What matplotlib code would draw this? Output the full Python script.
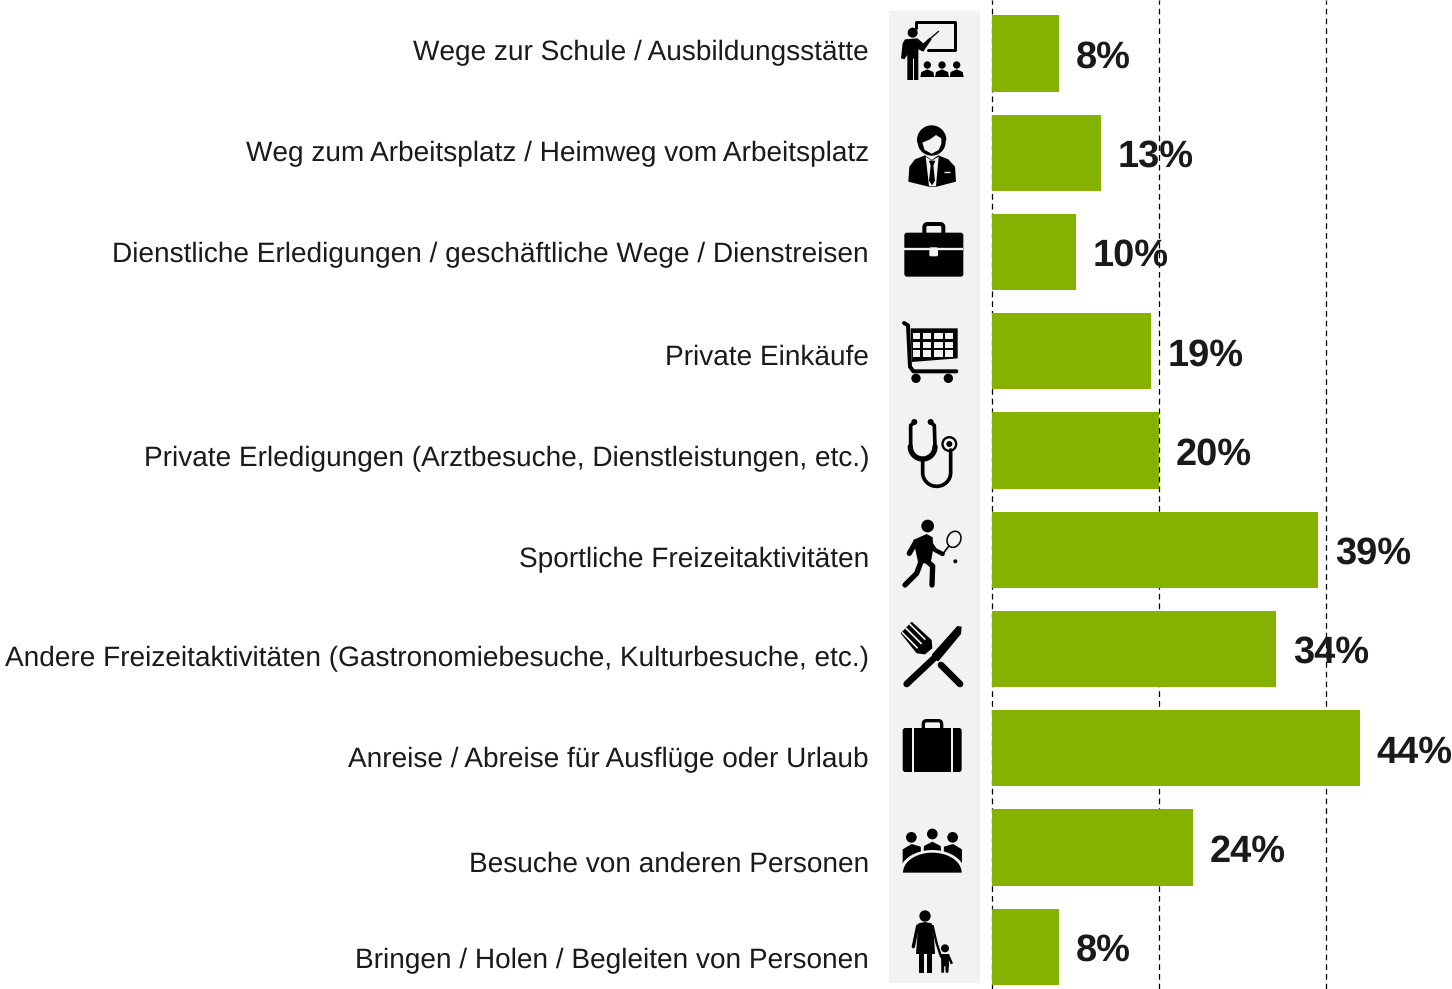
import numpy as np
import matplotlib
matplotlib.use("Agg")
import matplotlib.pyplot as plt
from matplotlib.patches import Polygon, Circle, Ellipse, Rectangle, FancyBboxPatch

plt.rcParams['font.family'] = ['Liberation Sans', 'DejaVu Sans']
plt.rcParams['text.hinting'] = 'none'
plt.rcParams['text.hinting_factor'] = 1

categories = [
    "Wege zur Schule / Ausbildungsstätte",
    "Weg zum Arbeitsplatz / Heimweg vom Arbeitsplatz",
    "Dienstliche Erledigungen / geschäftliche Wege / Dienstreisen",
    "Private Einkäufe",
    "Private Erledigungen (Arztbesuche, Dienstleistungen, etc.)",
    "Sportliche Freizeitaktivitäten",
    "Andere Freizeitaktivitäten (Gastronomiebesuche, Kulturbesuche, etc.)",
    "Anreise / Abreise für Ausflüge oder Urlaub",
    "Besuche von anderen Personen",
    "Bringen / Holen / Begleiten von Personen",
]
values = [8, 13, 10, 19, 20, 39, 34, 44, 24, 8]
grid_ticks = [0, 20, 40]

# label rows do not sit exactly on the bars in the original
label_y_px = [53, 154, 255, 357, 459, 560, 659, 760, 864, 961]

GREEN = '#85B200'
PANEL = '#F2F2F2'
W, H = 1452, 989
PX_PER_PCT = 8.36
ROW0, ROW_STEP = 53.5, 99.25

fig = plt.figure(figsize=(W / 100, H / 100), dpi=100)

# bars
ax = fig.add_axes([992 / W, 0, (W - 992) / W, 1])
ax.set_xlim(0, (W - 992) / PX_PER_PCT)
ax.set_ylim((H - ROW0) / ROW_STEP, -ROW0 / ROW_STEP)
ax.axis('off')
ax.patch.set_alpha(0)
for t in grid_ticks:
    ax.axvline(t, color='black', lw=0.9, linestyle=(0, (4.6, 3.2)), zorder=1, clip_on=False)
bars = ax.barh(range(len(values)), values, height=0.77, color=GREEN, zorder=2)
for b, v in zip(bars, values):
    ax.annotate(f"{v}%", (v, b.get_y() + b.get_height() / 2), xytext=(12, -3),
                textcoords='offset points', ha='left', va='center', fontsize=27.2,
                fontweight='bold', color='#1a1a1a', zorder=5, annotation_clip=False)

# overlay in pixels for panel, labels, icons
ov = fig.add_axes([0, 0, 1, 1], zorder=-1)
ov.set_xlim(0, W)
ov.set_ylim(H, 0)
ov.axis('off')
ov.add_patch(Rectangle((889, 11), 91, 972, color=PANEL, lw=0))
for name, y in zip(categories, label_y_px):
    ov.text(869, y, name, ha='right', va='center', fontsize=20.1, color='#1a1a1a')

ic = fig.add_axes([0, 0, 1, 1], zorder=3)
ic.set_xlim(0, W)
ic.set_ylim(H, 0)
ic.axis('off')
ic.patch.set_alpha(0)

# icon shapes are given in zoom-crop units (3x), with a y origin per crop
oy = 0


def pt(p):
    return (880 + p[0] / 3, oy + p[1] / 3)


def poly(pts, c='black'):
    ic.add_patch(Polygon([pt(p) for p in pts], closed=True, fc=c, ec='none'))


def circ(x, y, r, c='black'):
    ic.add_patch(Circle(pt((x, y)), r / 3, fc=c, ec='none'))


def line(pts, lw, c='black', cap='round'):
    xy = np.array([pt(p) for p in pts])
    ic.plot(xy[:, 0], xy[:, 1], color=c, lw=lw * 0.24, solid_capstyle=cap, solid_joinstyle='round')


def box(x0, y0, x1, y1, rad=8, fc='black', ec='none', lw=0):
    a, b = pt((x0, y0)), pt((x1, y1))
    ic.add_patch(FancyBboxPatch((a[0] + rad / 3, a[1] + rad / 3), b[0] - a[0] - 2 * rad / 3,
                                b[1] - a[1] - 2 * rad / 3, boxstyle=f"round,pad={rad / 3}",
                                fc=fc, ec=ec, lw=lw * 0.24))


def arc(cx, cy, rx, ry, a0, a1, n=40):
    t = np.radians(np.linspace(a0, a1, n))
    return [(cx + rx * np.cos(a), cy + ry * np.sin(a)) for a in t]


# teacher
oy = 0
line([(107, 85), (107, 65), (226, 65), (226, 151), (145, 151)], 9)
circ(98, 98, 15)
poly([(75, 118), (112, 115), (130, 130), (150, 112), (155, 118), (130, 155), (115, 148), (115, 240),
      (82, 240), (82, 165), (73, 178), (63, 175), (68, 130)])
line([(140, 125), (176, 94)], 4)
line([(98, 175), (98, 240)], 3, PANEL, 'butt')
for x in (142, 186, 230):
    circ(x, 195, 11)
    poly([(x - 21, 231), (x - 18, 216), (x, 208), (x + 18, 216), (x + 21, 231)])

# businessman
ic.add_patch(Ellipse(pt((155, 426)), 84 / 3, 82 / 3, fc='black', ec='none'))
poly(arc(155, 420, 44, 44, 180, 360) + [(190, 430), (120, 430), (112, 428)])
poly([(127, 428), (150, 418), (168, 405), (184, 415), (184, 432), (176, 450), (155, 461), (134, 450)], PANEL)
poly([(85, 545), (88, 500), (105, 478), (135, 466), (155, 480), (175, 466), (205, 478), (225, 500),
      (228, 545), (170, 560), (145, 560)])
poly([(137, 470), (147, 558), (168, 558), (176, 470), (155, 482)], PANEL)
poly([(147, 482), (166, 482), (160, 497), (165, 542), (156, 556), (147, 542), (152, 497)])
line([(192, 516), (210, 516)], 4, PANEL, 'butt')

# briefcase
box(133, 672, 190, 712, rad=10, fc='none', ec='black', lw=12)
box(73, 698, 250, 830)
line([(73, 748), (250, 748)], 7, PANEL, 'butt')
box(148, 742, 174, 769, rad=5, fc=PANEL)

# cart
oy = 300
poly([(92, 85), (233, 85), (233, 175), (95, 186)])
for y0, y1 in ((100, 118), (126, 145), (151, 170)):
    for x0, x1 in ((98, 120), (129, 154), (163, 188), (196, 220)):
        poly([(x0, y0), (x1, y0), (x1, y1), (x0, y1)], PANEL)
line([(72, 69), (84, 76), (90, 200), (100, 214), (229, 214)], 12)
circ(108, 235, 14)
circ(205, 235, 14)

# stethoscope
line([(105, 366), (92, 376), (92, 440)], 11)
line([(165, 440), (163, 376), (150, 366)], 11)
line(arc(128, 440, 37, 37, 180, 0), 16)
line([(128, 480), (128, 518)] + arc(170, 518, 42, 41, 180, 0) + [(212, 450)], 11)
circ(208, 432, 24)
circ(208, 432, 17, PANEL)
circ(208, 432, 9)
circ(103, 366, 9)
circ(152, 366, 9)

# tennis player
circ(143, 678, 19)
poly([(100, 720), (140, 702), (158, 712), (160, 745), (152, 790), (115, 790)])
line([(108, 725), (88, 760)], 16)
line([(148, 725), (165, 750), (188, 762)], 13)
line([(125, 780), (110, 820), (75, 855)], 16)
line([(130, 775), (158, 798), (156, 855)], 16)
line([(205, 740), (190, 760)], 5)
ic.add_patch(Ellipse(pt((222, 718)), 40 / 3, 50 / 3, angle=25, fc='none', ec='black', lw=1.1))
circ(226, 784, 6)

# fork and knife
oy = 600
poly([(62, 100), (95, 65), (155, 120), (157, 145), (135, 163), (110, 160)])
for a, b in (((66, 97), (113, 145)), ((77, 84), (125, 132)), ((88, 71), (136, 119))):
    line([a, b], 5, PANEL, 'butt')
line([(183, 195), (240, 252)], 20)
line([(165, 172), (80, 252)], 20)
poly([(156, 163), (232, 78), (245, 80), (243, 102), (175, 184), (162, 178)])

# suitcase
box(130, 362, 185, 395, rad=10, fc='none', ec='black', lw=10)
box(68, 384, 245, 516)
line([(98, 384), (98, 516)], 6, PANEL, 'butt')
line([(215, 384), (215, 516)], 6, PANEL, 'butt')

# group at table
for x, y in ((94, 712), (157, 702), (218, 712)):
    circ(x, y, 16)
poly([(68, 810), (68, 748), (95, 732), (122, 740), (124, 775)])
poly([(246, 810), (246, 748), (219, 732), (192, 740), (190, 775)])
poly([(130, 765), (132, 738), (157, 725), (182, 738), (184, 765)])
poly(arc(157, 818, 98, 68, 180, 360), PANEL)
poly(arc(157, 818, 88, 60, 180, 360))

# mother and child
circ(135, 948, 17)
poly([(115, 970), (135, 966), (155, 970), (162, 1010), (165, 1062), (108, 1062), (112, 1010)])
line([(113, 978), (100, 1040)], 10)
line([(158, 978), (170, 1030), (183, 1070)], 7)
poly([(116, 1062), (131, 1062), (131, 1118), (116, 1118)])
poly([(141, 1062), (156, 1062), (156, 1118), (141, 1118)])
circ(195, 1045, 12)
poly([(183, 1062), (207, 1062), (219, 1090), (212, 1093), (207, 1080), (207, 1095), (205, 1118),
      (197, 1118), (196, 1098), (193, 1098), (192, 1118), (184, 1118)])

fig.savefig("out.png", dpi=100)
